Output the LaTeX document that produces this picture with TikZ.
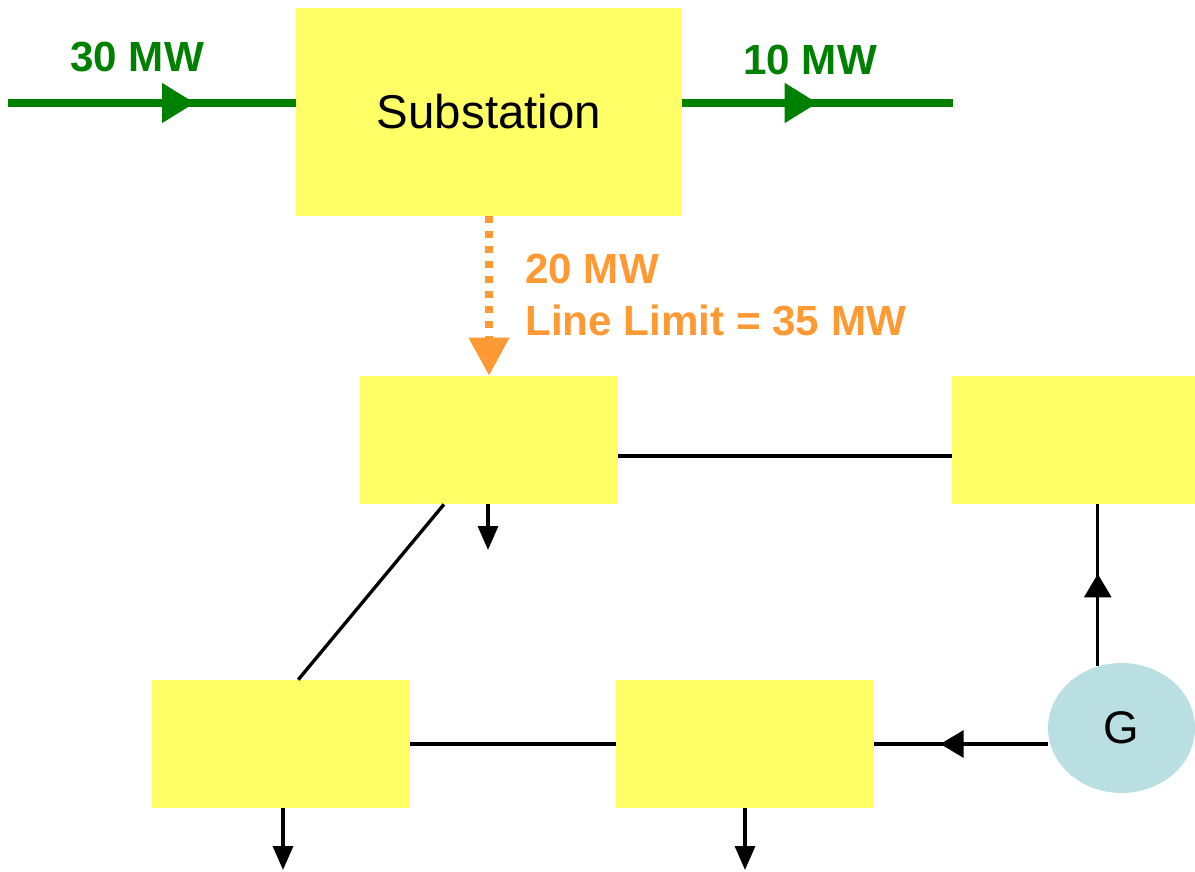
\documentclass[tikz,border=0pt]{standalone}
\usepackage{fontspec}
\setmainfont{Liberation Sans}
\usetikzlibrary{arrows.meta,shapes.geometric,decorations.markings}
\definecolor{busyellow}{HTML}{FFFF66}
\definecolor{flowgreen}{HTML}{008000}
\definecolor{limitorange}{HTML}{FF9933}
\definecolor{genblue}{HTML}{BADFE3}

\begin{document}
\begin{tikzpicture}[x=0.02cm,y=-0.02cm,
  bus/.style={fill=busyellow,inner sep=0pt,minimum width=5.16cm,minimum height=2.56cm},
  mwlabel/.style={font=\fontsize{24}{28}\selectfont\bfseries,inner sep=0pt,anchor=base west},
  tie/.style={line width=1.9pt},
  load/.style={tie,-{Triangle[length=0.48cm,width=0.4cm]}},
  midarrow/.style={postaction={decorate},decoration={markings,
    mark=at position #1 with {\arrow{Triangle[length=0.47cm,width=0.54cm]}}}},
  feed/.style={line width=4.5pt,color=flowgreen,postaction={decorate},decoration={markings,
    mark=at position #1 with {\arrow{Triangle[length=0.66cm,width=0.76cm]}}}}]
\useasboundingbox (0,0) rectangle (1195,871);
% buses
\node[bus,minimum width=7.72cm,minimum height=4.16cm,
  font=\fontsize{27}{31}\selectfont] (sub) at (489,112) {\raisebox{-3pt}{Substation}};
\node[bus] (busA) at (489,440) {};
\node[bus,minimum width=4.86cm] (busB) at (1073.5,440) {};
\node[bus] (busC) at (281,744) {};
\node[bus] (busD) at (745,744) {};
\node[ellipse,fill=genblue,inner sep=0pt,minimum width=2.94cm,minimum height=2.6cm,
  font=\fontsize{26}{30}\selectfont] (gen) at (1121.5,728) {G};
% free ends
\coordinate (gridIn) at (8,103);
\coordinate (gridOut) at (953,103);
\coordinate (loadA) at (488,550);
\coordinate (loadC) at (283,870);
\coordinate (loadD) at (745,870);
% flows
\draw[feed=0.65] (gridIn) -- (gridIn -| sub.west);
\draw[feed=0.5] (gridOut -| sub.east) -- (gridOut);
\node[mwlabel,text=flowgreen] (in30) at (70,72) {30 MW};
\node[mwlabel,text=flowgreen] (out10) at (743,75) {10 MW};
\draw[limitorange,line width=4pt,dash pattern=on 0.14cm off 0.16cm,
  -{Triangle[length=0.76cm,width=0.78cm]}] (sub.south) -- (busA.north);
\node[mwlabel,text=limitorange] (flow20) at (525,283) {20 MW};
\node[mwlabel,text=limitorange] (limit35) at (525,335) {Line Limit = 35 MW};
% lines
\draw[tie] ([yshift=-0.32cm]busA.east) -- ([yshift=-0.32cm]busB.west);
\draw[tie] (busC.east) -- (busD.west);
\draw[tie] (busA.235) -- (busC.75);
\draw[tie,midarrow=0.62] (busD.east -| gen.west) -- (busD.east);
\draw[tie,midarrow=0.57] (gen.111) -- (gen.111 |- busB.south);
% loads
\draw[load] (busA.south -| loadA) -- (loadA);
\draw[load] (busC.south -| loadC) -- (loadC);
\draw[load] (busD.south -| loadD) -- (loadD);
\end{tikzpicture}
\end{document}
